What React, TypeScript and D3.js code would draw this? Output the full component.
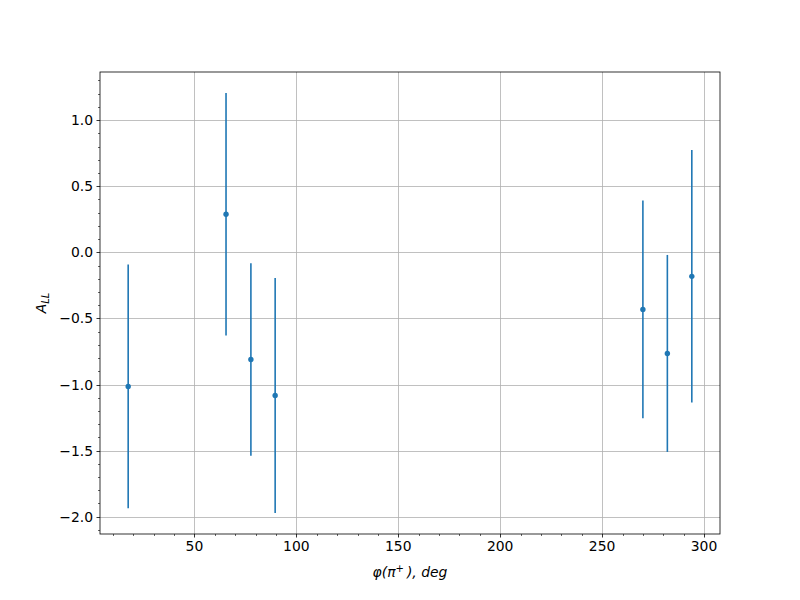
import React from "react";
import * as d3 from "d3";

const phi = [17.5, 65.5, 77.7, 89.6, 270, 282, 294];
const all = [-1.015, 0.288, -0.811, -1.083, -0.432, -0.765, -0.182];
const errs = [0.922, 0.917, 0.728, 0.889, 0.823, 0.745, 0.955];
const xTicks = [50, 100, 150, 200, 250, 300];
const yTicks = [-2.0, -1.5, -1.0, -0.5, 0.0, 0.5, 1.0];

const W = 800, H = 600;
const L = 100, R = 720, T = 72, B = 534;
const color = "#1f77b4";
const font = "DejaVu Sans, sans-serif";

export default function App() {
  const xmin = d3.min(phi)!, xmax = d3.max(phi)!;
  const xm = 0.05 * (xmax - xmin);
  const x = d3.scaleLinear().domain([xmin - xm, xmax + xm]).range([L, R]);
  const lo = d3.min(all.map((v, i) => v - errs[i]))!;
  const hi = d3.max(all.map((v, i) => v + errs[i]))!;
  const ym = 0.05 * (hi - lo);
  const y = d3.scaleLinear().domain([lo - ym, hi + ym]).range([B, T]);
  const [x0, x1] = x.domain();
  const [y0, y1] = y.domain();
  const xMinor = d3.range(10, 310, 10).filter(v => v >= x0 && v <= x1 && v % 50 !== 0);
  const yMinor = d3.range(-22, 14, 1).map(v => v / 10).filter(v => v >= y0 && v <= y1 && Math.abs((v * 10) % 5) > 1e-9);
  const fmt = (v: number) => v.toFixed(1).replace("-", "\u2212");
  const sx = (v: number) => Math.round(x(v)) + 0.5;
  const sy = (v: number) => Math.round(y(v)) + 0.5;
  return (
    <svg width={W} height={H} style={{ display: "block", position: "absolute", left: 0, top: 0 }}>
      <rect width={W} height={H} fill="white" />
      {xTicks.map(t => (
        <line key={"gx" + t} x1={sx(t)} x2={sx(t)} y1={T} y2={B} stroke="#b0b0b0" strokeWidth={0.8} />
      ))}
      {yTicks.map(t => (
        <line key={"gy" + t} x1={L} x2={R} y1={sy(t)} y2={sy(t)} stroke="#b0b0b0" strokeWidth={0.8} />
      ))}
      {phi.map((p, i) => (
        <g key={"e" + i}>
          <line x1={x(p)} x2={x(p)} y1={y(all[i] - errs[i])} y2={y(all[i] + errs[i])} stroke={color} strokeWidth={1.6} />
          <circle cx={x(p)} cy={y(all[i])} r={2.7} fill={color} />
        </g>
      ))}
      <rect x={L} y={T} width={R - L} height={B - T} fill="none" stroke="black" strokeWidth={0.8} />
      {xTicks.map(t => (
        <g key={"xt" + t}>
          <line x1={sx(t)} x2={sx(t)} y1={B} y2={B + 3.5} stroke="black" strokeWidth={0.8} />
          <text x={x(t)} y={B + 17} textAnchor="middle" fontFamily={font} fontSize={13.9}>{t}</text>
        </g>
      ))}
      {xMinor.map(t => (
        <line key={"xm" + t} x1={sx(t)} x2={sx(t)} y1={B} y2={B + 2} stroke="black" strokeWidth={0.6} />
      ))}
      {yTicks.map(t => (
        <g key={"yt" + t}>
          <line x1={L - 3.5} x2={L} y1={sy(t)} y2={sy(t)} stroke="black" strokeWidth={0.8} />
          <text x={L - 7} y={y(t) + 5} textAnchor="end" fontFamily={font} fontSize={13.9}>{fmt(t)}</text>
        </g>
      ))}
      {yMinor.map(t => (
        <line key={"ym" + t} x1={L - 2} x2={L} y1={sy(t)} y2={sy(t)} stroke="black" strokeWidth={0.6} />
      ))}
      <text x={(L + R) / 2} y={577} textAnchor="middle" fontFamily={font} fontSize={13.9} fontStyle="italic">
        φ(π<tspan dy={-5} fontSize={10}>+</tspan><tspan dy={5} dx={3}>), deg</tspan>
      </text>
      <text transform={`translate(46,${(T + B) / 2}) rotate(-90)`} textAnchor="middle" fontFamily={font} fontSize={13.9} fontStyle="italic">
        A<tspan dy={3} fontSize={10}>LL</tspan>
      </text>
    </svg>
  );
}
